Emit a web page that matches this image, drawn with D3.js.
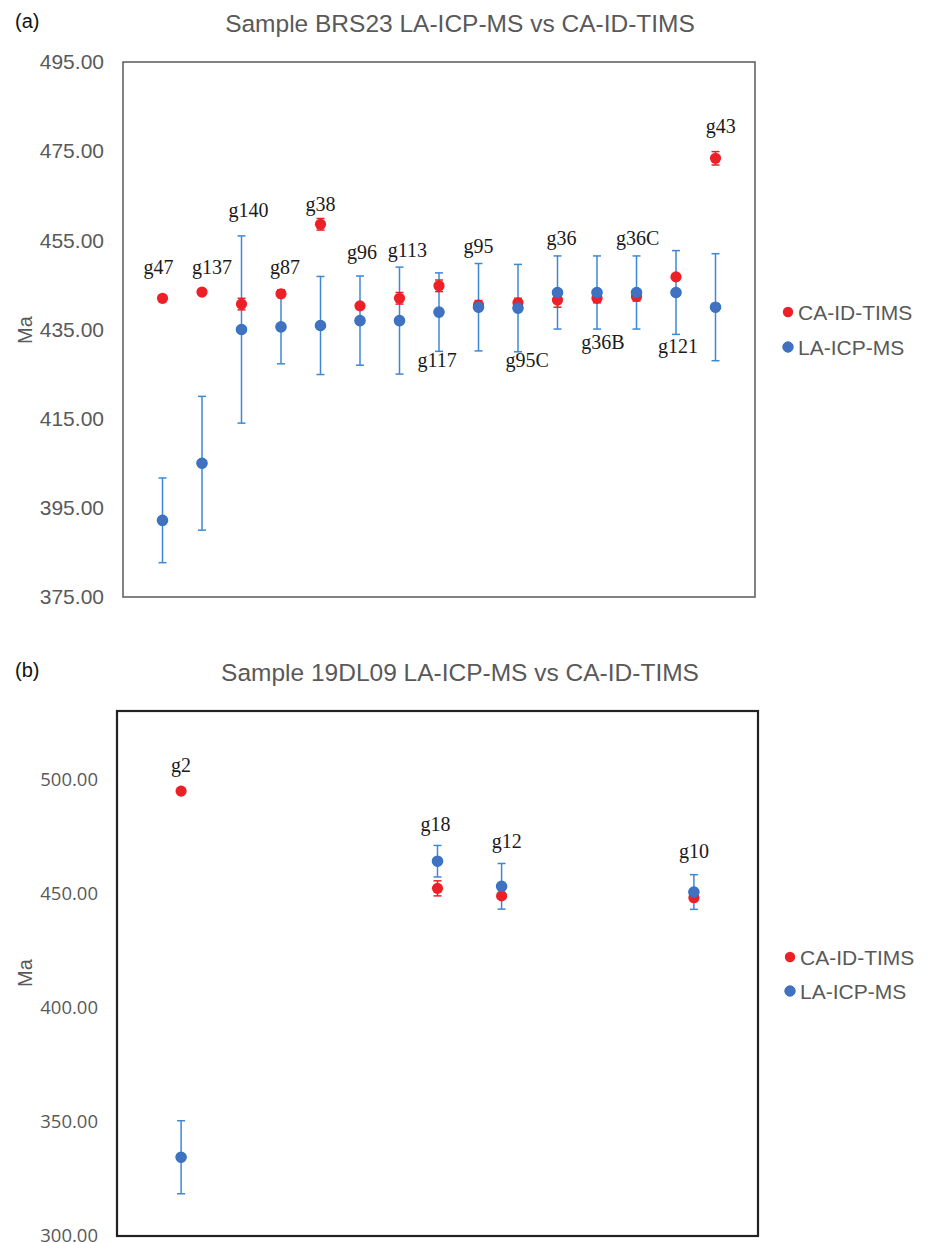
<!DOCTYPE html>
<html>
<head>
<meta charset="utf-8">
<script src="https://cdn.jsdelivr.net/npm/d3@7"></script>
<style>
  body { margin: 0; background: #fff; }
  svg { display: block; }
</style>
</head>
<body>
<div id="chart"></div>
<script>
// panel (a) - sample BRS23
const grainsA = ['g47', 'g137', 'g140', 'g87', 'g38', 'g96', 'g113', 'g117', 'g95', 'g95C', 'g36', 'g36B', 'g36C', 'g121', 'g43'];
const timsA = [442.0, 443.4, 440.7, 443.0, 458.6, 440.3, 442.0, 444.8, 440.5, 441.0, 441.6, 442.0, 442.4, 446.8, 473.4];
const timsErrA = [0.5, 0.5, 1.3, 0.8, 1.3, 0.5, 1.3, 1.3, 1.0, 1.0, 1.6, 1.0, 1.0, 0.6, 1.5];
const icpA = [392.2, 405.0, 435.0, 435.6, 435.9, 437.0, 437.0, 438.9, 440.0, 439.8, 443.3, 443.3, 443.3, 443.3, 440.0];
const icpErrA = [9.5, 15.0, 21.0, 8.3, 11.0, 10.0, 12.0, 8.8, 9.8, 9.8, 8.2, 8.2, 8.2, 9.4, 12.0];
const ticksA = [375, 395, 415, 435, 455, 475, 495];

// panel (b) - sample 19DL09
const grainsB = ['g2', 'g18', 'g12', 'g10'];
const slotB = [1, 5, 6, 9];
const timsB = [494.9, 452.3, 449.0, 448.2];
const timsErrB = [0.5, 3.3, 0.8, 0.8];
const icpB = [334.5, 464.2, 453.2, 450.7];
const icpErrB = [16.0, 6.9, 10.0, 7.6];
const ticksB = [300, 350, 400, 450, 500];

// where the grain labels sit (Ma, and shift in slot units)
const labelAtA = [447.4, 447.4, 460.2, 447.4, 461.6, 450.8, 451.3, 426.6, 452.2, 426.6, 454.0, 430.6, 454.0, 429.7, 479.1];
const labelShiftA = [-0.1, 0.25, 0.18, 0.1, 0, 0.05, 0.2, -0.05, 0, 0.23, 0.1, 0.15, 0.03, 0.05, 0.13];
const labelAtB = [503.1, 477.6, 470.2, 465.8];
const labelShiftB = [0, -0.03, 0.08, 0];

const RED = '#ee2027';
const BLUE = '#4470c0';
const BLUE_EDGE = '#2f74c8';
const BLUE_BAR = '#3d88d6';
const GREY = '#595959';

const svg = d3.select('#chart').append('svg')
  .attr('width', 930)
  .attr('height', 1243);

function panel(opts) {
  const g = svg.append('g');
  const x = d3.scaleLinear().domain(opts.xDomain).range([opts.left, opts.right]);
  const y = d3.scaleLinear().domain(opts.yDomain).range([opts.bottom, opts.top]);

  // axis labels
  g.append('g')
    .attr('transform', `translate(${opts.left - 19},0)`)
    .call(d3.axisLeft(y).tickValues(opts.ticks).tickFormat(d3.format('.2f')).tickSize(0).tickPadding(0))
    .call(a => a.select('.domain').remove())
    .call(a => a.selectAll('text')
      .attr('fill', GREY)
      .attr('font-family', opts.tickFont)
      .attr('font-size', opts.tickSize));

  g.append('rect')
    .attr('x', opts.left)
    .attr('y', opts.top)
    .attr('width', opts.right - opts.left)
    .attr('height', opts.bottom - opts.top)
    .attr('fill', 'none')
    .attr('stroke', opts.boxColor)
    .attr('stroke-width', opts.boxWidth);

  g.append('text')
    .attr('x', 460).attr('y', opts.titleY)
    .attr('text-anchor', 'middle')
    .attr('font-family', 'Liberation Sans, Arial, sans-serif')
    .attr('font-size', 24.5)
    .attr('fill', GREY)
    .text(opts.title);

  g.append('text')
    .attr('x', 15).attr('y', opts.titleY - 4)
    .attr('font-family', 'Liberation Sans, Arial, sans-serif')
    .attr('font-size', 20)
    .attr('fill', '#111')
    .text(opts.tag);

  g.append('text')
    .attr('transform', `translate(32,${opts.maY}) rotate(-90)`)
    .attr('text-anchor', 'middle')
    .attr('font-family', 'Liberation Sans, Arial, sans-serif')
    .attr('font-size', 20)
    .attr('fill', GREY)
    .text('Ma');

  const rows = opts.grains.map((name, i) => ({
    name,
    slot: opts.slot[i],
    tims: opts.tims[i], timsErr: opts.timsErr[i],
    icp: opts.icp[i], icpErr: opts.icpErr[i],
    labelAt: opts.labelAt[i], labelShift: opts.labelShift[i],
  }));

  function bars(cls, color, val, err) {
    const eb = g.append('g').attr('stroke', color).attr('stroke-width', 1.5).attr('fill', 'none');
    eb.selectAll('.' + cls + 'v').data(rows).join('line')
      .attr('x1', d => x(d.slot)).attr('x2', d => x(d.slot))
      .attr('y1', d => y(d[val] - d[err])).attr('y2', d => y(d[val] + d[err]));
    eb.selectAll('.' + cls + 't').data(rows).join('line')
      .attr('x1', d => x(d.slot) - 4).attr('x2', d => x(d.slot) + 4)
      .attr('y1', d => y(d[val] + d[err])).attr('y2', d => y(d[val] + d[err]));
    eb.selectAll('.' + cls + 'b').data(rows).join('line')
      .attr('x1', d => x(d.slot) - 4).attr('x2', d => x(d.slot) + 4)
      .attr('y1', d => y(d[val] - d[err])).attr('y2', d => y(d[val] - d[err]));
  }
  bars('icp', BLUE_BAR, 'icp', 'icpErr');
  bars('tims', RED, 'tims', 'timsErr');

  g.append('g').selectAll('circle').data(rows).join('circle')
    .attr('cx', d => x(d.slot)).attr('cy', d => y(d.tims))
    .attr('r', 5.6).attr('fill', RED);
  g.append('g').selectAll('circle').data(rows).join('circle')
    .attr('cx', d => x(d.slot)).attr('cy', d => y(d.icp))
    .attr('r', 5.2).attr('fill', BLUE).attr('stroke', BLUE_EDGE).attr('stroke-width', 1.2);

  g.append('g').selectAll('text').data(rows).join('text')
    .attr('x', d => x(d.slot + d.labelShift))
    .attr('y', d => y(d.labelAt))
    .attr('text-anchor', 'middle')
    .attr('font-family', 'Liberation Serif, Times New Roman, serif')
    .attr('font-size', 20)
    .attr('fill', '#1a1a1a')
    .text(d => d.name);

  // legend
  const lg = g.append('g').attr('font-family', 'Liberation Sans, Arial, sans-serif').attr('font-size', 21).attr('fill', GREY);
  [['CA-ID-TIMS', RED, null], ['LA-ICP-MS', BLUE, BLUE_EDGE]].forEach(([name, c, edge], i) => {
    const ly = opts.legendY + i * opts.legendGap;
    lg.append('circle').attr('cx', opts.legendX).attr('cy', ly).attr('r', 5.2).attr('fill', c)
      .attr('stroke', edge || 'none').attr('stroke-width', 1);
    lg.append('text').attr('x', opts.legendX + 10).attr('y', ly).attr('dy', '0.36em').text(name);
  });
}

panel({
  title: 'Sample BRS23 LA-ICP-MS vs CA-ID-TIMS', tag: '(a)', titleY: 32, maY: 330,
  left: 123, right: 755, top: 62, bottom: 597,
  xDomain: [0, 16], yDomain: [375, 495], ticks: ticksA,
  tickFont: 'Liberation Sans, Arial, sans-serif', tickSize: 21,
  boxColor: '#595959', boxWidth: 1.5,
  grains: grainsA, slot: grainsA.map((d, i) => i + 1),
  tims: timsA, timsErr: timsErrA, icp: icpA, icpErr: icpErrA,
  labelAt: labelAtA, labelShift: labelShiftA,
  legendX: 788, legendY: 312, legendGap: 35,
});

panel({
  title: 'Sample 19DL09 LA-ICP-MS vs CA-ID-TIMS', tag: '(b)', titleY: 681, maY: 973,
  left: 117, right: 758, top: 711, bottom: 1236,
  xDomain: [0, 10], yDomain: [300, 530], ticks: ticksB,
  tickFont: 'Open Sans, sans-serif', tickSize: 18.5,
  boxColor: '#222', boxWidth: 2.2,
  grains: grainsB, slot: slotB,
  tims: timsB, timsErr: timsErrB, icp: icpB, icpErr: icpErrB,
  labelAt: labelAtB, labelShift: labelShiftB,
  legendX: 790, legendY: 957, legendGap: 34,
});
</script>
</body>
</html>
